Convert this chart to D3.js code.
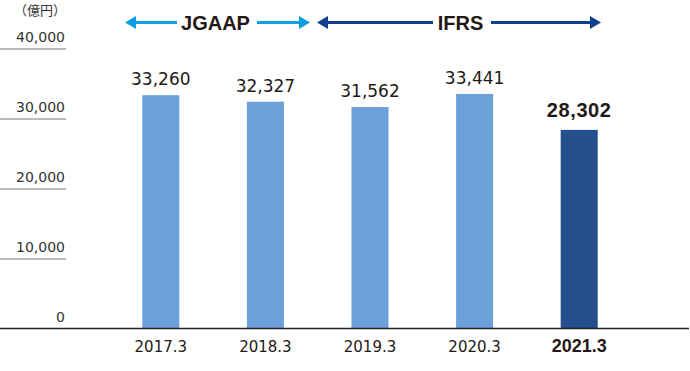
<!DOCTYPE html>
<html><head><meta charset="utf-8">
<script src="https://cdn.jsdelivr.net/npm/d3@7"></script>
<style>html,body{margin:0;padding:0;background:#fff;}svg{display:block;}</style>
</head><body>
<svg id="chart" width="690" height="371"></svg>
<script>
const categories = ["2017.3","2018.3","2019.3","2020.3","2021.3"];
const values = [33260, 32327, 31562, 33441, 28302];
const highlight = [false, false, false, false, true];
const yTicks = [0, 10000, 20000, 30000, 40000];
const unitLabel = "（億円）";
const standards = [
  {name: "JGAAP", from: 125, to: 310, textFrom: 181, textTo: 250, color: "#0f9ee2"},
  {name: "IFRS", from: 317, to: 601, textFrom: 437, textTo: 484, color: "#123f8c"}
];

const svg = d3.select("#chart");
const x = d3.scaleBand().domain(categories).range([108.5, 631.5]).paddingInner(0.646).paddingOuter(0.323);
const y = d3.scaleLinear().domain([0, 40000]).range([328, 48]);
const fmt = d3.format(",");
const reg = "'DejaVu Sans', sans-serif";
const bold = "'Liberation Sans', Arial, sans-serif";

// gridlines (short) + tick labels
const yAxis = d3.axisLeft(y).tickValues(yTicks).tickFormat(fmt).tickSize(0);
const gy = svg.append("g").call(yAxis);
gy.select(".domain").remove();
gy.selectAll(".tick").filter(d => d > 0).append("line")
  .attr("x1", 0).attr("x2", 66).attr("y1", 0.5).attr("y2", 0.5)
  .attr("stroke", "#777").attr("stroke-width", 1);
gy.selectAll(".tick text").attr("x", 65).attr("y", 0).attr("dy", -7).attr("text-anchor", "end")
  .style("font-family", reg).style("font-size", "14px").attr("fill", "#333");

svg.append("text").attr("x", 66).attr("y", 15).attr("text-anchor", "end")
  .style("font-family", "'Noto Sans CJK JP', sans-serif").style("font-size", "13px")
  .attr("fill", "#333").text(unitLabel);

// bars
svg.append("g").selectAll("rect").data(values).join("rect")
  .attr("x", (d, i) => x(categories[i]))
  .attr("y", d => y(d))
  .attr("width", x.bandwidth())
  .attr("height", d => y(0) - y(d))
  .attr("fill", (d, i) => highlight[i] ? "#234f8b" : "#6ca0d8");

// value labels
svg.append("g").selectAll("text").data(values).join("text")
  .attr("x", (d, i) => x(categories[i]) + x.bandwidth() / 2)
  .attr("y", (d, i) => y(d) - (highlight[i] ? 13 : 10))
  .attr("text-anchor", "middle")
  .style("font-family", (d, i) => highlight[i] ? bold : reg)
  .style("font-weight", (d, i) => highlight[i] ? "bold" : "normal")
  .style("font-size", (d, i) => highlight[i] ? "20px" : "17px")
  .style("letter-spacing", (d, i) => highlight[i] ? "0.6px" : "0px")
  .attr("fill", "#231815")
  .text(d => fmt(d));

// baseline
svg.append("line").attr("x1", 0).attr("x2", 689).attr("y1", y(0) + 0.5).attr("y2", y(0) + 0.5)
  .attr("stroke", "#222").attr("stroke-width", 1.3);

// x labels
const xAxis = d3.axisBottom(x).tickSize(0);
const gx = svg.append("g").attr("transform", `translate(0,${y(0)})`).call(xAxis);
gx.select(".domain").remove();
gx.selectAll(".tick text").attr("y", 24).attr("dy", 0)
  .style("font-family", (d, i) => highlight[i] ? bold : reg)
  .style("font-weight", (d, i) => highlight[i] ? "bold" : "normal")
  .style("font-size", (d, i) => highlight[i] ? "18px" : "15px")
  .attr("fill", "#231815");

// accounting standard arrows
const ay = 22.5;
const hs = svg.append("g");
standards.forEach(s => {
  const headL = 11, headH = 6.5;
  hs.append("line").attr("x1", s.from + headL - 1).attr("x2", s.textFrom - 4)
    .attr("y1", ay).attr("y2", ay).attr("stroke", s.color).attr("stroke-width", 3);
  hs.append("line").attr("x1", s.textTo + 7).attr("x2", s.to - headL + 1)
    .attr("y1", ay).attr("y2", ay).attr("stroke", s.color).attr("stroke-width", 3);
  hs.append("path").attr("d", `M${s.from},${ay} L${s.from + headL},${ay - headH} L${s.from + headL},${ay + headH} Z`).attr("fill", s.color);
  hs.append("path").attr("d", `M${s.to},${ay} L${s.to - headL},${ay - headH} L${s.to - headL},${ay + headH} Z`).attr("fill", s.color);
  hs.append("text").attr("x", (s.textFrom + s.textTo) / 2).attr("y", 30)
    .attr("text-anchor", "middle").style("font-family", bold).style("font-weight", "bold")
    .style("font-size", "20px").attr("fill", "#231815").text(s.name);
});
</script>
</body></html>
